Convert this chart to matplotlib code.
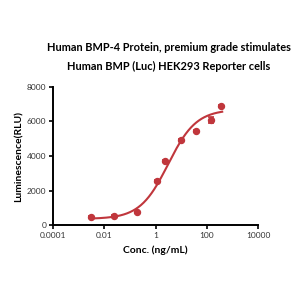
import numpy as np
import matplotlib
matplotlib.use("Agg")
import matplotlib.pyplot as plt

# Data
conc = [0.003, 0.024, 0.19, 1.17, 2.4, 9.6, 37.6, 148, 365]
lum = [480, 520, 730, 2570, 3710, 4950, 5450, 6070, 6880]
lum_err = [60, 40, 50, 60, 70, 60, 60, 180, 50]

# 4PL fit parameters (estimated from the fitted curve in the picture)
fit_bottom = 350
fit_top = 6700
fit_ec50 = 3.1
fit_hill = 0.79

title_line1 = "Human BMP-4 Protein, premium grade stimulates"
title_line2 = "Human BMP (Luc) HEK293 Reporter cells"
xlabel_text = "Conc. (ng/mL)"
ylabel_text = "Luminescence(RLU)"
xticks = [0.0001, 0.01, 1, 100, 10000]
xtick_labels = ["0.0001", "0.01", "1", "100", "10000"]
yticks = [0, 2000, 4000, 6000, 8000]

red = "#c0363c"

plt.rcParams['font.family'] = ['Lato', 'DejaVu Sans']

fig = plt.figure(figsize=(3, 3), dpi=100)
ax = fig.add_axes([0.177, 0.25, 0.683, 0.46])

xs = np.logspace(np.log10(conc[0]), np.log10(400), 300)
ys = fit_bottom + (fit_top - fit_bottom) / (1 + (fit_ec50 / xs) ** fit_hill)
ax.plot(xs, ys, color=red, lw=1.5)
ax.errorbar(conc, lum, yerr=lum_err, fmt='o', color=red, ms=4.3, capsize=2, elinewidth=1.2, capthick=1.2)

ax.set_xscale('log')
ax.set_xlim(0.0001, 10000)
ax.set_ylim(0, 8000)
ax.set_xticks(xticks)
ax.set_xticklabels(xtick_labels)
ax.xaxis.set_minor_locator(matplotlib.ticker.NullLocator())
ax.set_yticks(yticks)

for s in ['top', 'right']:
    ax.spines[s].set_visible(False)
for s in ['left', 'bottom']:
    ax.spines[s].set_linewidth(1.4)
ax.tick_params(axis='both', length=3, width=1.2, labelsize=6, colors='black', labelcolor='#333333', pad=2)

ax.set_xlabel(xlabel_text, fontsize=7.5, fontweight='bold', labelpad=5)
ax.set_ylabel(ylabel_text, fontsize=7.5, fontweight='bold', labelpad=2)

fig.text(0.562, 1 - 47 / 300, title_line1, ha='center', va='center', fontsize=7.9, fontweight='bold')
fig.text(0.562, 1 - 66 / 300, title_line2, ha='center', va='center', fontsize=7.9, fontweight='bold')

fig.savefig("out.png", dpi=100, facecolor='white')
